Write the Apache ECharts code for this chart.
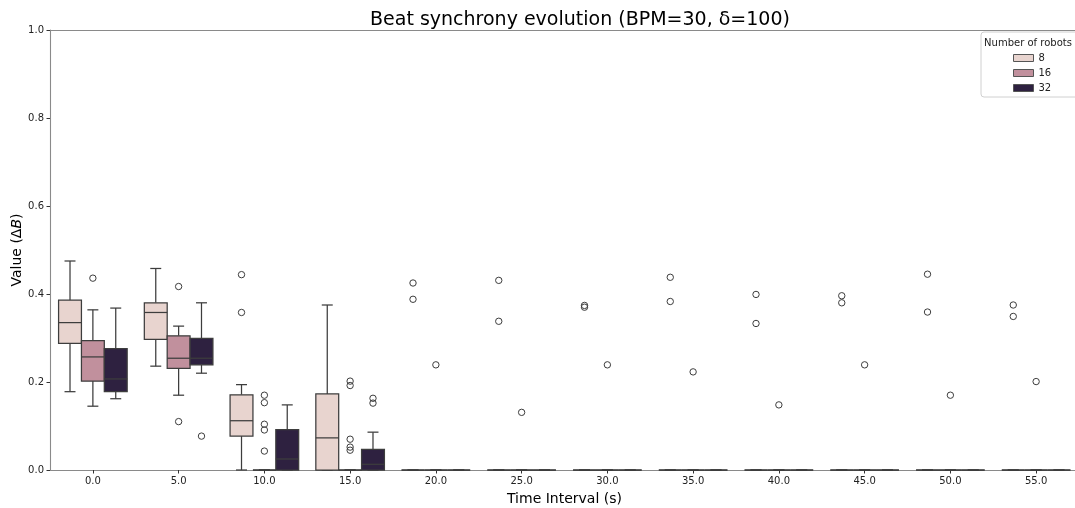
<!DOCTYPE html>
<html>
<head>
<meta charset="utf-8">
<script src="https://cdn.jsdelivr.net/npm/echarts@6/dist/echarts.min.js"></script>
<style>
  html, body { margin: 0; padding: 0; background: #fff; }
  #chart { width: 1075px; height: 508px; }
</style>
</head>
<body>
<div id="chart"></div>
<script>
// Time intervals (s) on the x axis
const categories = ['0.0', '5.0', '10.0', '15.0', '20.0', '25.0', '30.0', '35.0', '40.0', '45.0', '50.0', '55.0'];
const yTicks = [0, 0.2, 0.4, 0.6, 0.8, 1.0];

// Group sizes (hue levels)
const groups = ['8', '16', '32'];
const groupColors = ['#e8d4cf', '#c1909d', '#2e2140'];

// Box statistics per interval: [lower whisker, Q1, median, Q3, upper whisker]
const stats8 = [
  [0.178, 0.288, 0.335, 0.386, 0.475],
  [0.236, 0.297, 0.358, 0.380, 0.458],
  [0.000, 0.077, 0.112, 0.171, 0.194],
  [0.000, 0.000, 0.073, 0.173, 0.375],
  [0, 0, 0, 0, 0], [0, 0, 0, 0, 0], [0, 0, 0, 0, 0], [0, 0, 0, 0, 0],
  [0, 0, 0, 0, 0], [0, 0, 0, 0, 0], [0, 0, 0, 0, 0], [0, 0, 0, 0, 0]
];
const stats16 = [
  [0.145, 0.202, 0.257, 0.294, 0.364],
  [0.170, 0.231, 0.254, 0.305, 0.327],
  [0, 0, 0, 0, 0], [0, 0, 0, 0, 0], [0, 0, 0, 0, 0], [0, 0, 0, 0, 0],
  [0, 0, 0, 0, 0], [0, 0, 0, 0, 0], [0, 0, 0, 0, 0], [0, 0, 0, 0, 0],
  [0, 0, 0, 0, 0], [0, 0, 0, 0, 0]
];
const stats32 = [
  [0.162, 0.178, 0.207, 0.276, 0.368],
  [0.220, 0.239, 0.254, 0.299, 0.380],
  [0.000, 0.000, 0.025, 0.092, 0.148],
  [0.000, 0.000, 0.013, 0.047, 0.086],
  [0, 0, 0, 0, 0], [0, 0, 0, 0, 0], [0, 0, 0, 0, 0], [0, 0, 0, 0, 0],
  [0, 0, 0, 0, 0], [0, 0, 0, 0, 0], [0, 0, 0, 0, 0], [0, 0, 0, 0, 0]
];

// Outliers per group: [interval label, value]
const outliers8 = [
  ['10.0', 0.444], ['10.0', 0.358],
  ['20.0', 0.425], ['20.0', 0.388],
  ['25.0', 0.431], ['25.0', 0.338],
  ['30.0', 0.374], ['30.0', 0.370],
  ['35.0', 0.438], ['35.0', 0.383],
  ['40.0', 0.399], ['40.0', 0.333],
  ['45.0', 0.396], ['45.0', 0.380],
  ['50.0', 0.445], ['50.0', 0.359],
  ['55.0', 0.375], ['55.0', 0.349]
];
const outliers16 = [
  ['0.0', 0.436],
  ['5.0', 0.417], ['5.0', 0.110],
  ['10.0', 0.170], ['10.0', 0.153], ['10.0', 0.104], ['10.0', 0.091], ['10.0', 0.043],
  ['15.0', 0.202], ['15.0', 0.192], ['15.0', 0.070], ['15.0', 0.052], ['15.0', 0.045],
  ['20.0', 0.239], ['25.0', 0.131], ['30.0', 0.239], ['35.0', 0.223],
  ['40.0', 0.148], ['45.0', 0.239], ['50.0', 0.170], ['55.0', 0.201]
];
const outliers32 = [
  ['5.0', 0.077],
  ['15.0', 0.163], ['15.0', 0.152]
];

const EDGE = '#3d3d3d';
const FONT = 'DejaVu Sans';

function boxData(stats) {
  return stats.map((s, i) => [i].concat(s));
}
function pointData(list) {
  return list.map(p => [categories.indexOf(p[0]), p[1]]);
}

// Width of one hue slot inside a category band
function slot(api) {
  return api.size([1, 0])[0] * 0.8 / groups.length;
}

function boxRenderer(hue) {
  return function (params, api) {
    const cat = api.value(0);
    const w = slot(api);
    const cx = api.coord([cat, 0])[0] + (hue - 1) * w;
    const py = v => api.coord([cat, v])[1];
    const lo = py(api.value(1)), q1 = py(api.value(2)), med = py(api.value(3));
    const q3 = py(api.value(4)), hi = py(api.value(5));
    const cap = w * 0.48;
    const lineStyle = { stroke: EDGE, lineWidth: 1.25 };
    return {
      type: 'group',
      children: [
        { type: 'line', shape: { x1: cx, y1: q3, x2: cx, y2: hi }, style: lineStyle },
        { type: 'line', shape: { x1: cx, y1: q1, x2: cx, y2: lo }, style: lineStyle },
        { type: 'line', shape: { x1: cx - cap / 2, y1: hi, x2: cx + cap / 2, y2: hi }, style: lineStyle },
        { type: 'line', shape: { x1: cx - cap / 2, y1: lo, x2: cx + cap / 2, y2: lo }, style: lineStyle },
        { type: 'rect', shape: { x: cx - w / 2, y: q3, width: w, height: q1 - q3 },
          style: { fill: groupColors[hue], stroke: EDGE, lineWidth: 1.25 } },
        { type: 'line', shape: { x1: cx - w / 2, y1: med, x2: cx + w / 2, y2: med }, style: lineStyle }
      ]
    };
  };
}

function outlierRenderer(hue) {
  return function (params, api) {
    const cat = api.value(0);
    const w = slot(api);
    const pt = api.coord([cat, api.value(1)]);
    return {
      type: 'circle',
      shape: { cx: pt[0] + (hue - 1) * w, cy: pt[1], r: 3.2 },
      style: { fill: 'none', stroke: EDGE, lineWidth: 1 }
    };
  };
}

const statsByGroup = [stats8, stats16, stats32];
const outliersByGroup = [outliers8, outliers16, outliers32];

const series = [];
groups.forEach((g, h) => {
  series.push({
    name: g,
    type: 'custom',
    renderItem: boxRenderer(h),
    data: boxData(statsByGroup[h]),
    encode: { x: 0, y: [1, 2, 3, 4, 5] },
    itemStyle: { color: groupColors[h], borderColor: EDGE, borderWidth: 1 },
    z: 2,
    silent: true
  });
});
groups.forEach((g, h) => {
  series.push({
    name: g,
    type: 'custom',
    renderItem: outlierRenderer(h),
    data: pointData(outliersByGroup[h]),
    encode: { x: 0, y: 1 },
    itemStyle: { color: groupColors[h] },
    z: 3,
    silent: true
  });
});

const chart = echarts.init(document.getElementById('chart'), null, { renderer: 'canvas' });
chart.setOption({
  animation: false,
  backgroundColor: '#ffffff',
  textStyle: { fontFamily: FONT },
  title: {
    text: 'Beat synchrony evolution (BPM=30, \u03b4=100)',
    left: 575,
    textAlign: 'center',
    top: 6,
    textStyle: { fontFamily: FONT, fontSize: 19, fontWeight: 'normal', color: '#000' }
  },
  grid: {
    left: 50, right: -4, top: 30, bottom: 38,
    containLabel: false,
    outerBoundsMode: 'none'
  },
  xAxis: [{
    type: 'category',
    data: categories,
    boundaryGap: true,
    name: 'Time Interval (s)',
    nameLocation: 'middle',
    nameGap: 22,
    nameMoveOverlap: false,
    nameTextStyle: { fontFamily: FONT, fontSize: 14, color: '#000' },
    axisLine: { show: true, lineStyle: { color: '#8a8a8a', width: 1.1 } },
    axisTick: { show: true, alignWithLabel: true, length: 3.5, lineStyle: { color: '#333' } },
    axisLabel: { fontFamily: FONT, fontSize: 10, color: '#222', margin: 6 },
    splitLine: { show: false }
  }, {
    type: 'category',
    data: categories,
    position: 'top',
    axisLine: { show: true, lineStyle: { color: '#8a8a8a', width: 1.1 } },
    axisTick: { show: false },
    axisLabel: { show: false },
    splitLine: { show: false }
  }],
  yAxis: {
    type: 'value',
    min: 0,
    max: 1,
    interval: 0.2,
    name: '{a|Value (\u0394}{b|B}{a|)}',
    nameLocation: 'middle',
    nameGap: 26,
    nameMoveOverlap: false,
    nameTextStyle: {
      rich: {
        a: { fontFamily: FONT, fontSize: 14, color: '#000' },
        b: { fontFamily: FONT, fontSize: 14, color: '#000', fontStyle: 'italic' }
      }
    },
    axisLine: { show: true, lineStyle: { color: '#8a8a8a', width: 1.1 } },
    axisTick: { show: true, length: 3.5, lineStyle: { color: '#333' } },
    axisLabel: {
      fontFamily: FONT, fontSize: 10, color: '#222', margin: 6,
      formatter: v => (yTicks.indexOf(v) >= 0 ? v.toFixed(1) : '')
    },
    splitLine: { show: false }
  },
  legend: {
    orient: 'vertical',
    left: 1008,
    top: 48,
    itemWidth: 20,
    itemHeight: 7,
    itemGap: 5,
    icon: 'rect',
    selectedMode: false,
    z: 5,
    textStyle: { fontFamily: FONT, fontSize: 10, color: '#222' },
    data: groups.map((g, h) => ({
      name: g,
      itemStyle: { color: groupColors[h], borderColor: '#555', borderWidth: 1 }
    }))
  },
  graphic: [
    {
      type: 'rect',
      z: 4,
      shape: { x: 981, y: 32, width: 110, height: 65, r: 3 },
      style: { fill: 'rgba(255,255,255,0.85)', stroke: '#d0d0d0', lineWidth: 1 }
    },
    {
      type: 'text',
      z: 5,
      x: 1028,
      y: 38,
      style: {
        text: 'Number of robots',
        font: '10px "DejaVu Sans"',
        fill: '#222',
        align: 'center'
      }
    }
  ],
  series: series
});
</script>
</body>
</html>
